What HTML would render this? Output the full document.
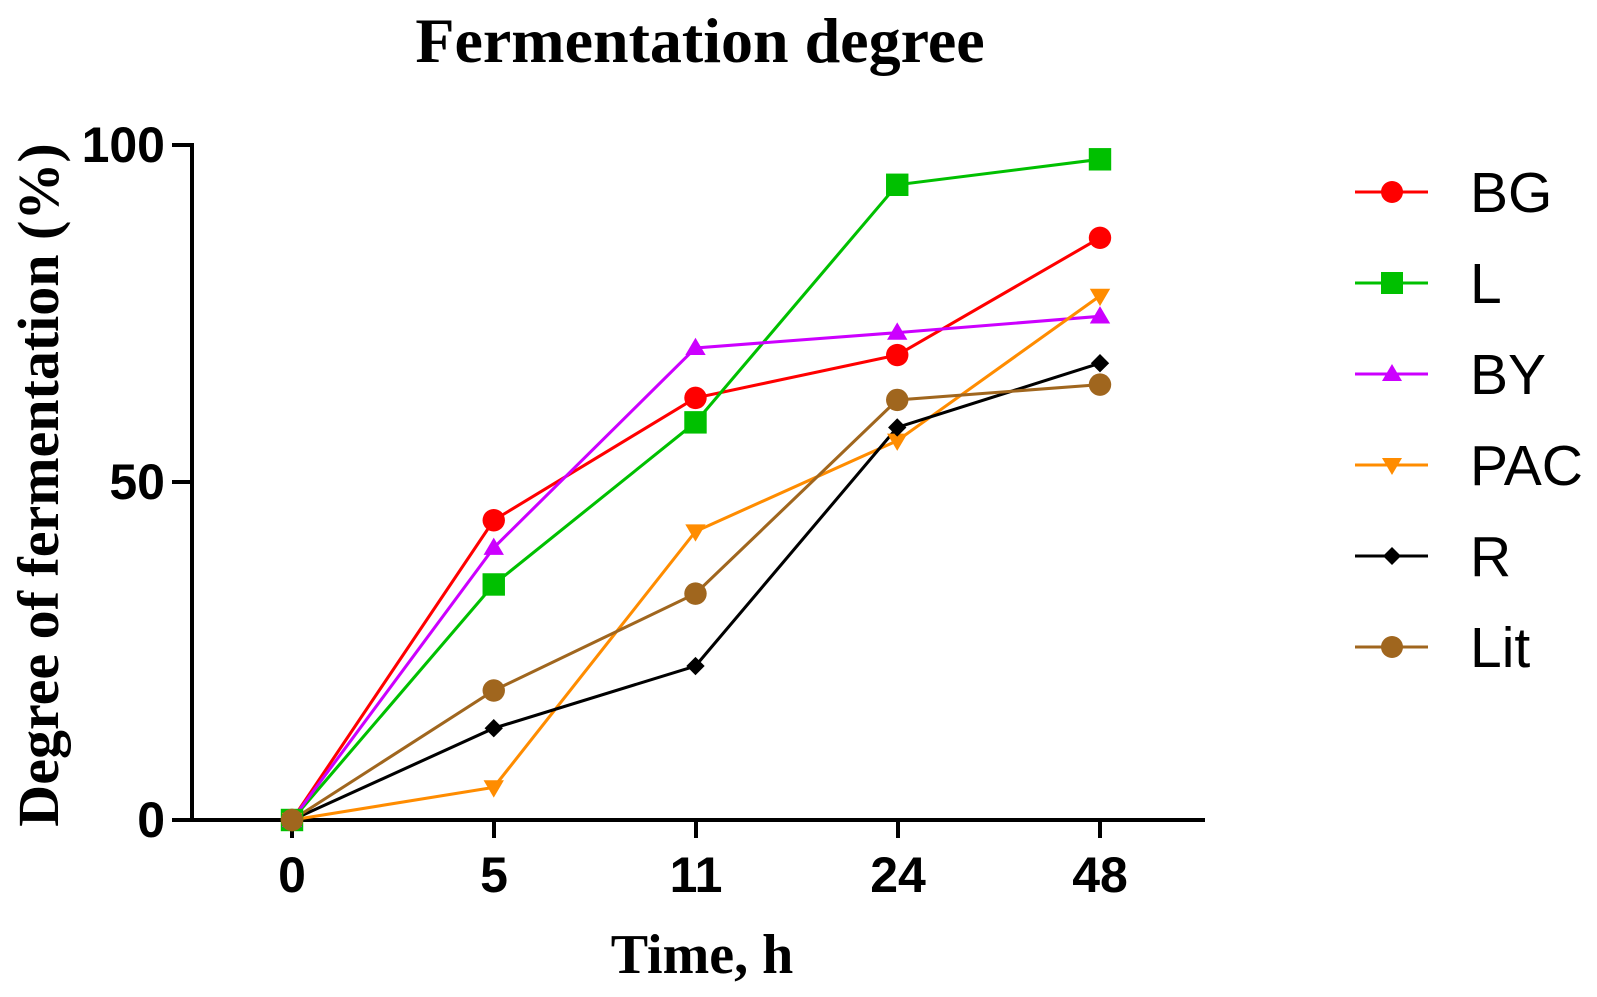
<!DOCTYPE html>
<html><head><style>body{margin:0;background:#fff}svg{display:block}</style></head><body>
<svg width="1597" height="997" xmlns="http://www.w3.org/2000/svg">
<text x="700" y="62" text-anchor="middle" font-family="Liberation Serif, serif" font-weight="bold" font-size="64">Fermentation degree</text>
<g stroke="#000" stroke-width="4" fill="none">
<line x1="192" y1="143" x2="192" y2="822"/>
<line x1="190" y1="820" x2="1205" y2="820"/>
<line x1="172" y1="145" x2="192" y2="145"/>
<line x1="172" y1="482" x2="192" y2="482"/>
<line x1="172" y1="820" x2="192" y2="820"/>
<line x1="292" y1="820" x2="292" y2="838"/>
<line x1="494" y1="820" x2="494" y2="838"/>
<line x1="696" y1="820" x2="696" y2="838"/>
<line x1="898" y1="820" x2="898" y2="838"/>
<line x1="1100" y1="820" x2="1100" y2="838"/>
</g>
<g font-family="Liberation Sans, sans-serif" font-weight="bold" font-size="50" text-anchor="end">
<text x="165" y="162">100</text><text x="165" y="499">50</text><text x="165" y="837">0</text>
</g>
<g font-family="Liberation Sans, sans-serif" font-weight="bold" font-size="50" text-anchor="middle">
<text x="292" y="892">0</text><text x="494" y="892">5</text><text x="696" y="892">11</text><text x="898" y="892">24</text><text x="1100" y="892">48</text>
</g>
<text x="702" y="973" text-anchor="middle" font-family="Liberation Serif, serif" font-weight="bold" font-size="56">Time, h</text>
<text transform="translate(58,485) rotate(-90)" text-anchor="middle" font-family="Liberation Serif, serif" font-weight="bold" font-size="58">Degree of fermentation (%)</text>
<g transform="translate(-0.42,-0.78) scale(1.0189,1.0196)">
<g fill="none" stroke-width="3">
<polyline stroke="#ff0000" points="287,805 485,511 683,391 881,349 1080,234"/>
<polyline stroke="#00c000" points="287,805 485,574 683,415 881,182 1080,157"/>
<polyline stroke="#cc00ff" points="287,805 485,538 683,342 881,327 1080,311"/>
<polyline stroke="#ff8c00" points="287,805 485,773 683,522 881,433 1080,291"/>
<polyline stroke="#000" points="287,805 485,715 683,654 881,420 1080,357"/>
<polyline stroke="#a0661e" points="287,805 485,678 683,583 881,393 1080,378"/>
</g>
<g fill="#ff0000"><circle cx="287" cy="805" r="11"/><circle cx="485" cy="511" r="11"/><circle cx="683" cy="391" r="11"/><circle cx="881" cy="349" r="11"/><circle cx="1080" cy="234" r="11"/></g>
<g fill="#00c000"><rect x="276" y="794" width="22" height="22"/><rect x="474" y="563" width="22" height="22"/><rect x="672" y="404" width="22" height="22"/><rect x="870" y="171" width="22" height="22"/><rect x="1069" y="146" width="22" height="22"/></g>
<g fill="#cc00ff"><path d="M287,795l10,17h-20z"/><path d="M485,528l10,17h-20z"/><path d="M683,332l10,17h-20z"/><path d="M881,317l10,17h-20z"/><path d="M1080,301l10,17h-20z"/></g>
<g fill="#ff8c00"><path d="M287,815l10,-17h-20z"/><path d="M485,783l10,-17h-20z"/><path d="M683,532l10,-17h-20z"/><path d="M881,443l10,-17h-20z"/><path d="M1080,301l10,-17h-20z"/></g>
<g fill="#000"><path d="M287,796l9,9-9,9-9-9z"/><path d="M485,706l9,9-9,9-9-9z"/><path d="M683,645l9,9-9,9-9-9z"/><path d="M881,411l9,9-9,9-9-9z"/><path d="M1080,348l9,9-9,9-9-9z"/></g>
<g fill="#a0661e"><circle cx="287" cy="805" r="11"/><circle cx="485" cy="678" r="11"/><circle cx="683" cy="583" r="11"/><circle cx="881" cy="393" r="11"/><circle cx="1080" cy="378" r="11"/></g>
</g>
<g stroke-width="3">
<line x1="1355" y1="192" x2="1428" y2="192" stroke="#ff0000"/><circle cx="1392" cy="192" r="11" fill="#ff0000"/>
<line x1="1355" y1="283" x2="1428" y2="283" stroke="#00c000"/><rect x="1381" y="272" width="22" height="22" fill="#00c000"/>
<line x1="1355" y1="374" x2="1428" y2="374" stroke="#cc00ff"/><path d="M1392,364l10,17h-20z" fill="#cc00ff"/>
<line x1="1355" y1="465" x2="1428" y2="465" stroke="#ff8c00"/><path d="M1392,475l10,-17h-20z" fill="#ff8c00"/>
<line x1="1355" y1="556" x2="1428" y2="556" stroke="#000"/><path d="M1392,547l9,9-9,9-9-9z" fill="#000"/>
<line x1="1355" y1="647" x2="1428" y2="647" stroke="#a0661e"/><circle cx="1392" cy="647" r="11" fill="#a0661e"/>
</g>
<g font-family="Liberation Sans, sans-serif" font-size="57">
<text x="1470" y="212">BG</text><text x="1470" y="303">L</text><text x="1470" y="394">BY</text><text x="1470" y="485">PAC</text><text x="1470" y="576">R</text><text x="1470" y="667">Lit</text>
</g>
</svg>
</body></html>
